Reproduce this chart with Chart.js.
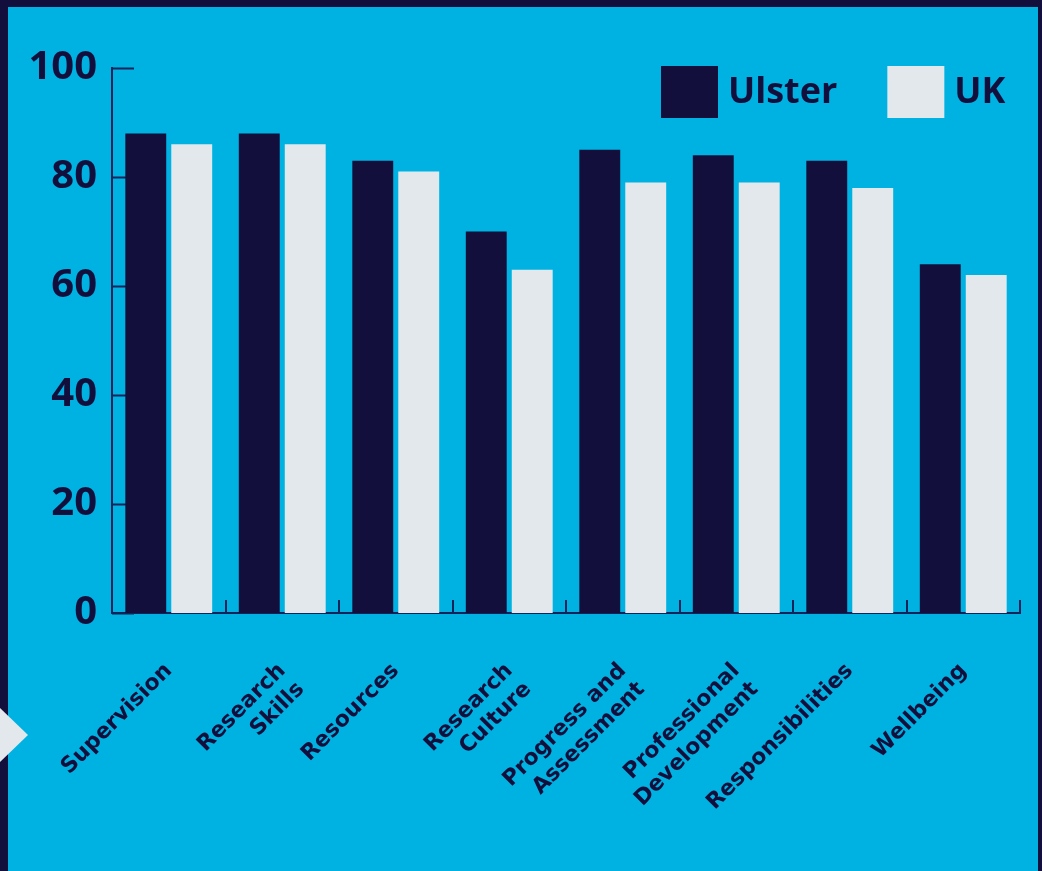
<!DOCTYPE html>
<html lang="en">
  <head>
    <meta charset="UTF-8" />
    <title>Ulster vs UK</title>
    <script src="https://cdn.jsdelivr.net/npm/chart.js"></script>
    <style>
      html,
      body {
        margin: 0;
        padding: 0;
        background-color: #130f3d;
        width: 1042px;
        height: 871px;
        overflow: hidden;
      }

      .panel {
        position: absolute;
        left: 8px;
        top: 7px;
        width: 1030px;
        height: 864px;
        background-color: #00b2e2;
      }

      .arrow {
        position: absolute;
        left: 0;
        top: 708px;
        width: 28px;
        height: 54px;
        background-color: #e3e8ec;
        clip-path: polygon(0 0, 100% 50%, 0 100%);
      }
    </style>
  </head>
  <body>
    <div class="panel">
      <canvas id="chart" width="1030" height="864"></canvas>
    </div>
    <div class="arrow"></div>

    <script>
      const categories = [
        "Supervision",
        ["Research", "Skills"],
        "Resources",
        ["Research", "Culture"],
        ["Progress and", "Assessment"],
        ["Professional", "Development"],
        "Responsibilities",
        "Wellbeing",
      ];
      const seriesNames = ["Ulster", "UK"];
      const ulsterValues = [88, 88, 83, 70, 85, 84, 83, 64];
      const ukValues = [86, 86, 81, 63, 79, 79, 78, 62];
      const yTicks = [0, 20, 40, 60, 80, 100];

      const navy = "#130f3d";
      const light = "#e3e8ec";
      const axisColor = "#15235a";

      // ticks drawn inward + legend on top of the plot
      const decorations = {
        id: "decorations",
        beforeDatasetsDraw(chart) {
          const ctx = chart.ctx;
          const x = chart.scales.x;
          const y = chart.scales.y;
          ctx.save();
          ctx.strokeStyle = axisColor;
          ctx.lineWidth = 2;
          yTicks.forEach((v) => {
            const py = Math.round(y.getPixelForValue(v)) + 0.5;
            ctx.beginPath();
            ctx.moveTo(x.left, py);
            ctx.lineTo(x.left + 22, py);
            ctx.stroke();
          });
          const step = x.getPixelForValue(1) - x.getPixelForValue(0);
          for (let i = 1; i <= categories.length; i++) {
            const px = Math.round(x.getPixelForValue(i - 1) + step / 2);
            ctx.beginPath();
            ctx.moveTo(px, y.bottom);
            ctx.lineTo(px, y.bottom - 13);
            ctx.stroke();
          }
          ctx.restore();
        },
        afterDraw(chart) {
          const ctx = chart.ctx;
          ctx.save();
          ctx.font = "bold 36px 'Open Sans'";
          ctx.textBaseline = "middle";
          let lx = 653;
          chart.data.datasets.forEach((ds) => {
            ctx.fillStyle = ds.backgroundColor;
            ctx.fillRect(lx, 59, 57, 52);
            ctx.fillStyle = navy;
            ctx.fillText(ds.label, lx + 67, 86);
            lx += 67 + ctx.measureText(ds.label).width + 50;
          });
          ctx.restore();
        },
      };

      new Chart(document.getElementById("chart"), {
        type: "bar",
        data: {
          labels: categories,
          datasets: [
            {
              label: seriesNames[0],
              data: ulsterValues,
              backgroundColor: navy,
            },
            {
              label: seriesNames[1],
              data: ukValues,
              backgroundColor: light,
            },
          ],
        },
        options: {
          responsive: false,
          animation: false,
          layout: {
            padding: { top: 61, right: 18, left: 0, bottom: 0 },
          },
          datasets: {
            bar: {
              categoryPercentage: 0.81,
              barPercentage: 0.89,
            },
          },
          plugins: {
            legend: { display: false },
            tooltip: { enabled: false },
          },
          scales: {
            x: {
              grid: { display: false, drawTicks: false },
              border: { display: true, color: axisColor, width: 2 },
              ticks: {
                color: navy,
                font: { family: "DejaVu Sans", weight: "bold", size: 22 },
                minRotation: 45,
                maxRotation: 45,
                padding: 45,
                autoSkip: false,
              },
              afterFit(scale) {
                scale.height = 258;
              },
            },
            y: {
              min: 0,
              max: 100,
              afterBuildTicks(scale) {
                scale.ticks = yTicks.map((v) => ({ value: v }));
              },
              grid: { display: false, drawTicks: false },
              border: { display: true, color: axisColor, width: 2 },
              ticks: {
                color: navy,
                font: { family: "Open Sans", weight: "bold", size: 40 },
                padding: 15,
              },
              afterFit(scale) {
                scale.width = 104;
              },
            },
          },
        },
        plugins: [decorations],
      });
    </script>
  </body>
</html>
